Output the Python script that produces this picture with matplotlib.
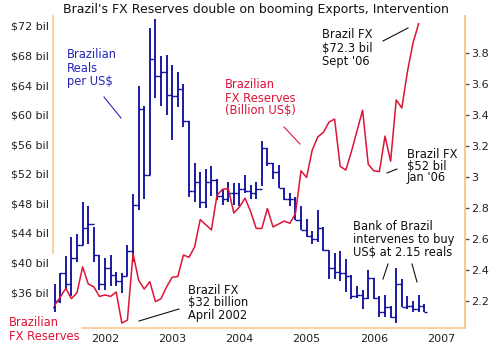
import numpy as np
import matplotlib
matplotlib.use("Agg")
import matplotlib.pyplot as plt

# monthly data, first month = April 2001
first_month = 2001.25

# FX reserves, billion US$ (Apr 2001 .. Sep 2006)
reserves = [34.2, 35.3, 36.5, 35.1, 35.9, 39.4, 37.1, 36.7, 35.4,
            35.6, 35.4, 36.0, 31.8, 32.2, 41.2, 37.6, 36.4, 37.4, 34.7, 35.1, 36.7,
            38.0, 38.1, 41.0, 40.7, 42.1, 45.8, 45.1, 44.4, 49.1, 49.9, 50.0, 46.7,
            47.5, 48.7, 46.9, 44.6, 44.6, 47.3, 44.8, 45.2, 45.6, 45.3, 46.6, 52.4,
            51.5, 55.2, 57.0, 57.6, 59.0, 59.4, 53.0, 52.5, 55.0, 57.8, 60.6, 53.3,
            52.4, 52.3, 57.1, 53.7, 62.0, 60.9, 65.8, 69.7, 72.3]

# reals per US$, monthly high / low / close (Apr 2001 .. Oct 2006)
brl_high = [2.31, 2.38, 2.49, 2.61, 2.63, 2.84, 2.81, 2.68, 2.50,
            2.48, 2.50, 2.39, 2.38, 2.56, 2.89, 3.59, 3.46, 3.96, 4.02, 3.78, 3.79,
            3.72, 3.68, 3.60, 3.36, 3.09, 3.03, 3.05, 3.07, 2.99, 2.92, 2.97, 2.96,
            2.96, 3.01, 2.95, 2.97, 3.23, 3.19, 3.09, 3.08, 2.93, 2.90, 2.87, 2.81,
            2.73, 2.65, 2.79, 2.68, 2.52, 2.51, 2.52, 2.47, 2.37, 2.30, 2.27, 2.40,
            2.35, 2.23, 2.24, 2.17, 2.41, 2.34, 2.23, 2.20, 2.24, 2.18]
brl_low = [2.13, 2.19, 2.28, 2.23, 2.45, 2.56, 2.57, 2.45, 2.27,
           2.27, 2.30, 2.30, 2.25, 2.36, 2.45, 2.79, 2.86, 3.01, 3.51, 3.46, 3.40,
           3.24, 3.45, 3.32, 2.87, 2.84, 2.80, 2.80, 2.88, 2.85, 2.82, 2.84, 2.82,
           2.81, 2.90, 2.86, 2.86, 2.94, 3.07, 2.99, 2.93, 2.85, 2.81, 2.72, 2.66,
           2.61, 2.57, 2.58, 2.52, 2.34, 2.34, 2.33, 2.26, 2.21, 2.22, 2.15, 2.21,
           2.21, 2.10, 2.10, 2.09, 2.06, 2.16, 2.15, 2.13, 2.13, 2.13]
brl_close = [2.20, 2.38, 2.31, 2.48, 2.56, 2.67, 2.70, 2.50, 2.31,
             2.41, 2.37, 2.33, 2.36, 2.52, 2.82, 3.44, 3.01, 3.76, 3.65, 3.68, 3.53,
             3.52, 3.57, 3.36, 2.91, 2.97, 2.84, 2.97, 2.98, 2.88, 2.86, 2.90, 2.90,
             2.92, 2.91, 2.90, 2.92, 3.19, 3.09, 3.03, 2.93, 2.86, 2.86, 2.72, 2.66,
             2.62, 2.60, 2.67, 2.53, 2.41, 2.39, 2.38, 2.36, 2.23, 2.24, 2.22, 2.35,
             2.22, 2.13, 2.16, 2.10, 2.31, 2.16, 2.17, 2.15, 2.17, 2.13]
brl_open = [2.16] + brl_close[:-1]

left_ticks = [36, 40, 44, 48, 52, 56, 60, 64, 68, 72]
right_ticks = [2.2, 2.4, 2.6, 2.8, 3.0, 3.2, 3.4, 3.6, 3.8]
years = [2002, 2003, 2004, 2005, 2006, 2007]

t_res = first_month + np.arange(len(reserves)) / 12.0
t_brl = first_month + np.arange(len(brl_high)) / 12.0

RED = "#dc1438"
BLUE = "#0a0a9c"
SPINE = "#f8c890"
TXT = "#222222"

plt.rcParams['font.family'] = ['DejaVu Sans']

fig = plt.figure(figsize=(4.98, 3.51), dpi=100)
ax = fig.add_axes([53/498, 1-328/351, (465-53)/498, (328-16)/351])
ax2 = ax.twinx()

# blue high-low bars with open / close ticks
tk = 0.042
ax2.vlines(t_brl, brl_low, brl_high, color=BLUE, lw=1.3)
ax2.hlines(brl_open, t_brl - tk, t_brl, color=BLUE, lw=1.0)
ax2.hlines(brl_close, t_brl, t_brl + tk, color=BLUE, lw=1.0)

ax.plot(t_res, reserves, color=RED, lw=1.1)

ax.set_zorder(ax2.get_zorder() + 1)
ax.patch.set_visible(False)

ax.set_xlim(2001.226, 2007.357)
ax.set_ylim(31.13, 73.35)
ax2.set_ylim(2.026, 4.039)

ax.set_yticks(left_ticks)
ax.set_yticklabels(["$%d bil" % v for v in left_ticks])
ax.tick_params(axis='y', length=0, pad=3, labelsize=8, labelcolor=TXT)
ax2.set_yticks(right_ticks)
ax2.set_yticklabels(["%g" % v for v in right_ticks])
ax2.tick_params(axis='y', length=3, width=1, color="#555555", pad=1.5,
                labelsize=8, labelcolor=TXT)
ax.set_xticks(years)
ax.set_xticklabels([str(y) for y in years])
ax.tick_params(axis='x', length=0, pad=4, labelsize=8, labelcolor=TXT)

for a in (ax, ax2):
    for s in a.spines.values():
        s.set_color(SPINE)
        s.set_linewidth(1.2)
    a.spines['top'].set_visible(False)
ax.spines['left'].set_bounds(41.3, 73.35)
ax2.spines['left'].set_visible(False)
ax.spines['bottom'].set_bounds(2001.66, 2007.357)
ax2.spines['bottom'].set_visible(False)

# overlay in pixel coordinates for the notes
ov = fig.add_axes([0, 0, 1, 1])
ov.set_xlim(0, 498)
ov.set_ylim(351, 0)
ov.axis('off')
ov.patch.set_visible(False)


def note(x, y0, lines, color, step=13):
    for i, s in enumerate(lines):
        ov.text(x, y0 + i * step, s, color=color, fontsize=8.3,
                ha='left', va='center')


ov.text(63, 10, "Brazil's FX Reserves double on booming Exports, Intervention",
        fontsize=9, color="#111111", ha='left', va='center')

note(67, 55, ["Brazilian", "Reals", "per US$"], "#2626b8")
ov.plot([104, 121], [97, 118], color="#2626b8", lw=0.8)

note(225, 85, ["Brazilian", "FX Reserves", "(Billion US$)"], RED)
ov.plot([284, 300], [127, 144], color=RED, lw=0.8)

note(322, 35, ["Brazil FX", "$72.3 bil", "Sept '06"], "#111111")
ov.plot([383, 408], [41, 28], color="#111111", lw=0.8)

note(407, 154, ["Brazil FX", "$52 bil", "Jan '06"], "#111111", step=12)
ov.plot([387, 397], [173, 169], color="#111111", lw=0.8)

note(353, 226, ["Bank of Brazil", "intervenes to buy", "US$ at 2.15 reals"],
     "#111111")
ov.plot([388, 383], [264, 279], color="#111111", lw=0.8)
ov.plot([412, 417], [264, 282], color="#111111", lw=0.8)

note(188, 290, ["Brazil FX", "$32 billion", "April 2002"], "#111111")
ov.plot([139, 179], [321, 309], color="#111111", lw=0.8)

note(9, 323, ["Brazilian", "FX Reserves"], RED)

fig.savefig("out.png", dpi=100)
